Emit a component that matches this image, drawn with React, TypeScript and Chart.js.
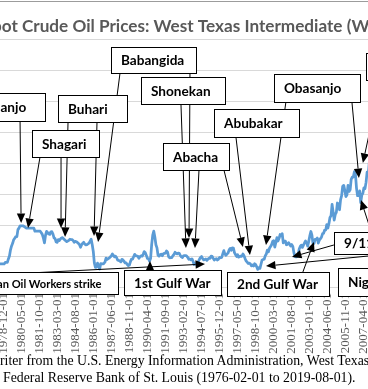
import React, { useEffect, useRef } from 'react';
import { Chart, registerables } from 'chart.js';

Chart.register(...registerables);

// ---------------- Data ----------------
const firstYear = 1976;
const firstMonth = 2;
const monthCount = 523; // 1976-02-01 .. 2019-08-01
const monthLabels: string[] = Array.from({ length: monthCount }, (_, i) => {
  const m = firstMonth - 1 + i;
  const yr = firstYear + Math.floor(m / 12);
  return `${yr}-${String((m % 12) + 1).padStart(2, '0')}-01`;
});
const labelStep = 17;
const yMin = 0;
const yMax = 160;
const yStep = 20;

const prices1970s = [
  11.16, 11.16, 11.16, 11.16, 11.16, 12.0, 12.0, 12.0, 12.0, 12.0, 12.0,
  13.9, 13.9, 13.9, 13.9, 13.9, 13.9, 14.85, 14.85, 14.85, 14.85, 14.85, 14.85,
  14.85, 14.85, 14.85, 14.85, 14.85, 14.85, 14.85, 14.85, 14.85, 14.85, 14.85, 14.85,
  14.85, 15.85, 15.85, 15.85, 18.1, 20.0, 24.0, 26.5, 28.2, 30.5, 31.5, 32.5,
];
const prices1980s = [
  32.5, 37.0, 38.0, 39.5, 39.5, 39.5, 39.5, 39.0, 38.5, 38.0, 38.0, 38.0,
  38.0, 38.0, 38.0, 38.0, 38.0, 36.0, 36.0, 36.0, 36.0, 36.0, 36.0, 35.0,
  33.85, 31.56, 28.48, 33.45, 35.93, 35.07, 34.16, 33.95, 35.63, 35.68, 34.15, 31.72,
  31.18, 29.0, 28.8, 30.61, 30.0, 31.0, 31.66, 31.9, 31.11, 30.41, 29.84, 29.24,
  29.7, 30.06, 30.81, 30.61, 30.52, 29.97, 28.82, 29.45, 29.19, 28.78, 28.12, 27.32,
  25.64, 27.31, 28.24, 28.82, 27.62, 27.14, 27.32, 27.81, 28.25, 29.54, 30.81, 27.22,
  22.93, 15.46, 12.61, 12.84, 15.38, 13.43, 11.59, 15.1, 14.87, 14.9, 15.22, 16.11,
  18.65, 17.75, 18.3, 18.68, 19.44, 20.07, 21.34, 20.31, 19.53, 19.86, 18.85, 17.28,
  17.13, 16.8, 16.2, 17.86, 17.42, 16.53, 15.5, 15.52, 14.54, 13.77, 14.14, 16.38,
  18.02, 17.94, 19.48, 21.07, 20.12, 20.05, 19.78, 18.58, 19.59, 20.1, 19.86, 21.1,
];
const prices1990s = [
  22.86, 22.11, 20.39, 18.43, 18.2, 16.7, 18.45, 27.31, 33.51, 36.04, 32.33, 27.28,
  25.23, 20.48, 19.9, 20.83, 21.23, 20.19, 21.4, 21.69, 21.89, 23.23, 22.46, 19.5,
  18.79, 19.01, 18.92, 20.23, 20.98, 22.39, 21.78, 21.34, 21.88, 21.69, 20.34, 19.41,
  19.03, 20.09, 20.32, 20.25, 19.95, 19.09, 17.89, 18.01, 17.5, 18.15, 16.61, 14.52,
  15.03, 14.78, 14.68, 16.42, 17.89, 19.06, 19.66, 18.38, 17.45, 17.72, 18.07, 17.16,
  18.04, 18.57, 18.54, 19.9, 19.74, 18.45, 17.33, 18.02, 18.23, 17.43, 17.99, 19.03,
  18.85, 19.09, 21.33, 23.5, 21.17, 20.42, 21.3, 21.9, 23.97, 24.88, 23.71, 25.23,
  25.13, 22.18, 20.97, 19.7, 20.82, 19.26, 19.66, 19.95, 19.8, 21.33, 20.19, 18.33,
  16.72, 16.06, 15.12, 15.35, 14.91, 13.72, 14.17, 13.47, 15.03, 14.46, 13.0, 11.35,
  12.52, 12.01, 14.68, 17.31, 17.72, 17.92, 20.1, 21.28, 23.8, 22.69, 25.0, 26.1,
];
const prices2000s = [
  27.26, 29.37, 29.84, 25.72, 28.79, 31.82, 29.7, 31.26, 33.88, 33.11, 34.42, 28.44,
  29.59, 29.61, 27.24, 27.49, 28.63, 27.6, 26.43, 27.37, 26.2, 22.17, 19.64, 19.39,
  19.72, 20.72, 24.53, 26.18, 27.04, 25.52, 26.97, 28.39, 29.66, 28.84, 26.35, 29.46,
  32.95, 35.83, 33.51, 28.17, 28.11, 30.66, 30.75, 31.57, 28.31, 30.34, 31.11, 32.13,
  34.31, 34.69, 36.74, 36.75, 40.28, 38.03, 40.78, 44.9, 45.94, 53.28, 48.47, 43.15,
  46.84, 48.15, 54.19, 52.98, 49.83, 56.35, 59.0, 64.99, 65.59, 62.26, 58.32, 59.41,
  65.49, 61.63, 62.69, 69.44, 70.84, 70.95, 74.41, 73.04, 63.8, 58.89, 59.08, 61.96,
  54.51, 59.28, 60.44, 63.98, 63.46, 67.49, 74.12, 72.36, 79.92, 85.8, 94.77, 91.69,
  92.97, 95.39, 105.45, 112.58, 125.4, 133.88, 133.37, 116.67, 104.11, 76.61, 57.31, 41.12,
  41.71, 39.09, 47.94, 49.65, 59.03, 69.64, 64.15, 71.05, 69.41, 75.72, 77.99, 74.47,
];
const prices2010s = [
  78.33, 76.39, 81.2, 84.29, 73.74, 75.34, 76.32, 76.6, 75.24, 81.89, 84.25, 89.15,
  89.17, 88.58, 102.86, 109.53, 100.9, 96.26, 97.3, 86.33, 85.52, 86.32, 97.16, 98.56,
  100.27, 102.2, 106.16, 103.32, 94.66, 82.3, 87.9, 94.13, 94.51, 89.49, 86.53, 87.86,
  94.76, 95.31, 92.94, 92.02, 94.51, 95.77, 104.67, 106.57, 106.29, 100.54, 93.86, 97.63,
  94.62, 100.82, 100.8, 102.07, 102.18, 105.79, 103.59, 96.54, 93.21, 84.4, 75.79, 59.29,
  47.22, 50.58, 47.82, 54.45, 59.27, 59.82, 50.9, 42.87, 45.48, 46.22, 42.44, 37.19,
  31.68, 30.32, 37.55, 40.75, 46.71, 48.76, 44.65, 44.72, 45.18, 49.78, 45.66, 51.97,
  52.5, 53.47, 49.33, 51.06, 48.48, 45.18, 46.63, 48.04, 49.82, 51.58, 56.64, 57.88,
  63.7, 62.23, 62.73, 66.25, 69.98, 67.87, 70.98, 68.06, 70.23, 70.75, 56.96, 49.52,
  51.38, 54.95, 58.15, 63.86, 60.83, 54.66, 57.35, 54.81,
];
const wtiPrices = [...prices1970s, ...prices1980s, ...prices1990s, ...prices2000s, ...prices2010s];

const titleText = 'Spot Crude Oil Prices: West Texas Intermediate (WTI)';
const sourceLine1 = 'writer from the U.S. Energy Information Administration, West Texas Intermediate (WTI) and the';
const sourceLine2 = 'Federal Reserve Bank of St. Louis (1976-02-01 to 2019-08-01).';

// ---------------- Annotations (data coordinates: [month index, price]) ----------------
type Arrow = { from: [number, number]; to: [number, number] };
type Note = { text: string; at: [number, number]; w: number; h: number; size: number; arrows: Arrow[] };
const notes: Note[] = [
  { text: 'Iranian Oil Workers strike', at: [-1.8, 9.7], w: 153, h: 22, size: 12,
    arrows: [{ from: [12.3, 7.4], to: [224.3, 14.8] }] },
  { text: 'Obasanjo', at: [-7.2, 125.2], w: 86, h: 28, size: 14.67,
    arrows: [{ from: [50.0, 106.5], to: [51.0, 41.3] }] },
  { text: 'Buhari', at: [85.8, 123.9], w: 69, h: 27, size: 14.67,
    arrows: [{ from: [95.2, 106.5], to: [92.4, 32.3] }, { from: [122.5, 106.5], to: [119.7, 32.9] }] },
  { text: 'Shagari', at: [61.3, 101.3], w: 67, h: 27, size: 14.67,
    arrows: [{ from: [68.8, 83.9], to: [57.5, 38.1] }, { from: [88.6, 83.9], to: [88.6, 38.1] }] },
  { text: 'Babangida', at: [135.7, 154.8], w: 85, h: 26, size: 14.67,
    arrows: [{ from: [144.2, 138.1], to: [123.5, 29.0] }, { from: [210.1, 138.1], to: [209.2, 31.6] }] },
  { text: 'Shonekan', at: [164.0, 135.5], w: 84, h: 27, size: 14.67,
    arrows: [{ from: [201.6, 118.1], to: [206.3, 25.2] }] },
  { text: 'Abacha', at: [184.7, 92.9], w: 66, h: 27, size: 14.67,
    arrows: [{ from: [218.6, 75.5], to: [214.8, 25.2] }, { from: [242.1, 75.5], to: [260.0, 25.8] }] },
  { text: 'Abubakar', at: [232.7, 114.8], w: 85, h: 28, size: 14.67,
    arrows: [{ from: [253.4, 96.8], to: [266.6, 20.6] }] },
  { text: 'Obasanjo', at: [289.2, 137.4], w: 86, h: 28, size: 14.67,
    arrows: [{ from: [300.5, 119.4], to: [281.7, 27.1] }, { from: [362.7, 119.4], to: [369.3, 70.3] }] },
  { text: "Yar'Adua", at: [375.9, 151.0], w: 90, h: 27, size: 14.67,
    arrows: [{ from: [390.0, 133.5], to: [373.0, 80.0] }] },
  { text: '9/11', at: [345.7, 35.5], w: 52, h: 22, size: 14.67,
    arrows: [{ from: [345.7, 27.1], to: [306.2, 19.4] }] },
  { text: '1st Gulf War', at: [147.9, 11.0], w: 97, h: 25, size: 14.67,
    arrows: [{ from: [172.4, 11.0], to: [172.4, 16.8] }] },
  { text: '2nd Gulf War', at: [245.0, 9.7], w: 102, h: 24, size: 14.67,
    arrows: [{ from: [316.5, 9.7], to: [326.9, 29.0] }] },
  { text: 'Niger Delta crisis', at: [349.5, 12.3], w: 130, h: 28, size: 14.67,
    arrows: [{ from: [391.9, 12.3], to: [371.2, 56.1] }, { from: [436.1, 23.9], to: [281.7, 13.5] }] },
];

// ---------------- Layout ----------------
const CANVAS_LEFT = -120;
const CANVAS_W = 680;
const CANVAS_H = 389;
const Y_AXIS_W = 87;
const PAD_TOP = 39;
const PAD_RIGHT = 39;
const X_AXIS_H = 102;
const NOTE_FONT = 'Lato';

const notesPlugin = {
  id: 'notesPlugin',
  afterDraw(chart: any) {
    const { ctx } = chart;
    const xs = chart.scales.x;
    const ys = chart.scales.y;
    const px = (i: number) => xs.getPixelForValue(i);
    const py = (v: number) => ys.getPixelForValue(v);
    ctx.save();

    // frame edge at top
    ctx.strokeStyle = '#9c9c9c';
    ctx.lineWidth = 1;
    ctx.beginPath();
    ctx.moveTo(0, 1.5);
    ctx.lineTo(chart.width, 1.5);
    ctx.stroke();

    // title
    const visible = titleText.slice(2, 49);
    ctx.font = `bold 20px ${NOTE_FONT}`;
    const tSize = (20 * 368) / ctx.measureText(visible).width;
    ctx.font = `bold ${tSize}px ${NOTE_FONT}`;
    const lead = ctx.measureText(titleText.slice(0, 2)).width;
    ctx.fillStyle = '#595959';
    ctx.textAlign = 'left';
    ctx.textBaseline = 'alphabetic';
    ctx.fillText(titleText, -CANVAS_LEFT + 1.7 - lead, 31.5);

    // font fit factor (Calibri-like width)
    ctx.font = `bold 14.67px ${NOTE_FONT}`;
    const k = 57.3 / ctx.measureText('Obasanjo').width;

    // arrows
    ctx.strokeStyle = '#000';
    ctx.fillStyle = '#000';
    ctx.lineWidth = 1;
    for (const n of notes) {
      for (const a of n.arrows) {
        const x1 = px(a.from[0]);
        const y1 = py(a.from[1]);
        const x2 = px(a.to[0]);
        const y2 = py(a.to[1]);
        const ang = Math.atan2(y2 - y1, x2 - x1);
        const L = 9.5;
        const W = 4.2;
        const bx = x2 - L * Math.cos(ang);
        const by = y2 - L * Math.sin(ang);
        ctx.beginPath();
        ctx.moveTo(x1, y1);
        ctx.lineTo(bx, by);
        ctx.stroke();
        ctx.beginPath();
        ctx.moveTo(x2, y2);
        ctx.lineTo(bx + W * Math.sin(ang), by - W * Math.cos(ang));
        ctx.lineTo(bx - W * Math.sin(ang), by + W * Math.cos(ang));
        ctx.closePath();
        ctx.fill();
      }
    }

    // boxes
    for (const n of notes) {
      const left = Math.round(px(n.at[0])) + 0.5;
      const top = Math.round(py(n.at[1])) + 0.5;
      ctx.fillStyle = '#ffffff';
      ctx.fillRect(left, top, n.w, n.h);
      ctx.strokeStyle = '#000';
      ctx.lineWidth = 1;
      ctx.strokeRect(left, top, n.w, n.h);
      const fs = n.size * k;
      ctx.font = `bold ${fs}px ${NOTE_FONT}`;
      ctx.fillStyle = '#000';
      ctx.textAlign = 'left';
      ctx.textBaseline = 'alphabetic';
      ctx.fillText(n.text, left + 9.5, top + n.h / 2 + fs * 0.36);
    }
    ctx.restore();
  },
};

export default function App() {
  const ref = useRef<HTMLCanvasElement>(null);

  useEffect(() => {
    if (!ref.current) return;
    const chart = new Chart(ref.current, {
      type: 'line',
      data: {
        labels: monthLabels,
        datasets: [
          {
            label: 'WTI',
            data: wtiPrices,
            borderColor: '#5B9BD5',
            backgroundColor: '#5B9BD5',
            borderWidth: 2.75,
            pointRadius: 0,
            tension: 0,
            fill: false,
            borderJoinStyle: 'round',
          },
        ],
      },
      options: {
        animation: false,
        responsive: false,
        devicePixelRatio: 1,
        events: [],
        layout: { padding: { top: PAD_TOP, right: PAD_RIGHT, left: 0, bottom: 0 } },
        plugins: {
          legend: { display: false },
          title: { display: false },
          tooltip: { enabled: false },
        },
        scales: {
          x: {
            type: 'category',
            offset: false,
            grid: { display: false, drawTicks: false },
            border: { display: true, color: '#D9D9D9' },
            afterBuildTicks: (scale: any) => {
              scale.ticks = scale.ticks.filter((t: any) => t.value % labelStep === 0);
            },
            afterFit: (scale: any) => {
              scale.height = X_AXIS_H;
            },
            ticks: {
              autoSkip: false,
              minRotation: 90,
              maxRotation: 90,
              padding: 6,
              color: '#595959',
              font: { family: 'Liberation Serif', size: 13 },
            },
          },
          y: {
            min: yMin,
            max: yMax,
            grid: { color: '#D9D9D9', drawTicks: false },
            border: { display: false },
            afterFit: (scale: any) => {
              scale.width = Y_AXIS_W;
            },
            ticks: {
              stepSize: yStep,
              color: '#595959',
              font: { family: 'Liberation Serif', size: 13 },
            },
          },
        },
      },
      plugins: [notesPlugin],
    } as any);
    return () => chart.destroy();
  }, []);

  const noteStyle: React.CSSProperties = {
    position: 'absolute',
    whiteSpace: 'nowrap',
    fontFamily: '"Liberation Serif", "Times New Roman", serif',
    fontSize: 13.8,
    lineHeight: '16px',
    color: '#000',
  };

  return (
    <div
      style={{
        position: 'absolute',
        left: 0,
        top: 0,
        width: 368,
        height: 389,
        overflow: 'hidden',
        background: '#ffffff',
      }}
    >
      <canvas
        ref={ref}
        width={CANVAS_W}
        height={CANVAS_H}
        style={{ position: 'absolute', left: CANVAS_LEFT, top: 0, width: CANVAS_W, height: CANVAS_H }}
      />
      <div style={{ ...noteStyle, top: 353, left: -10 }}>{sourceLine1}</div>
      <div style={{ ...noteStyle, top: 370, left: 3 }}>{sourceLine2}</div>
    </div>
  );
}
